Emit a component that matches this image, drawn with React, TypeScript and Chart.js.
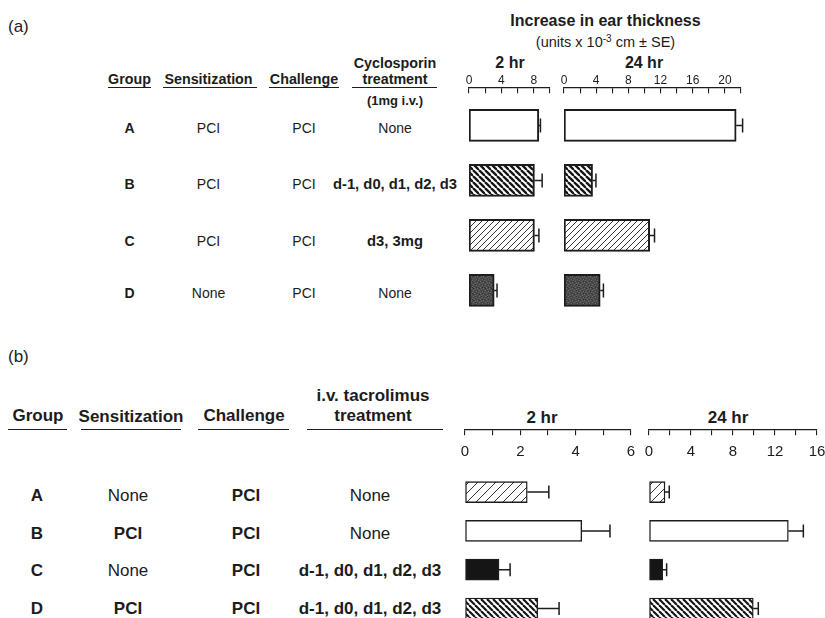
import React, { useEffect, useRef } from 'react';
import { Chart, registerables } from 'chart.js';

Chart.register(...registerables);

// ---------------- DATA ----------------
const groups = ['A', 'B', 'C', 'D'];

// Panel (a): cyclosporin
const aSensitization = ['PCI', 'PCI', 'PCI', 'None'];
const aChallenge = ['PCI', 'PCI', 'PCI', 'PCI'];
const aTreatment = ['None', 'd-1, d0, d1, d2, d3', 'd3, 3mg', 'None'];
const a2hValues = [8.62, 8.08, 8.08, 3.11];
const a2hErrors = [0.2, 0.95, 0.55, 0.35];
const a24hValues = [21.4, 3.55, 10.65, 4.5];
const a24hErrors = [0.8, 0.42, 0.6, 0.4];
const a2hTicks = [0, 2, 4, 6, 8, 10];
const a2hTickLabels = [0, 4, 8];
const a24hTicks = [0, 2, 4, 6, 8, 10, 12, 14, 16, 18, 20, 22];
const a24hTickLabels = [0, 4, 8, 12, 16, 20];

// Panel (b): tacrolimus
const bSensitization = ['None', 'PCI', 'None', 'PCI'];
const bChallenge = ['PCI', 'PCI', 'PCI', 'PCI'];
const bTreatment = ['None', 'None', 'd-1, d0, d1, d2, d3', 'd-1, d0, d1, d2, d3'];
const b2hValues = [2.25, 4.22, 1.23, 2.63];
const b2hErrors = [0.78, 1.02, 0.4, 0.77];
const b24hValues = [1.52, 13.27, 1.3, 9.93];
const b24hErrors = [0.41, 1.43, 0.38, 0.48];
const b2hTicks = [0, 1, 2, 3, 4, 5, 6];
const b2hTickLabels = [0, 2, 4, 6];
const b24hTicks = [0, 2, 4, 6, 8, 10, 12, 14, 16];
const b24hTickLabels = [0, 4, 8, 12, 16];

// ---------------- STYLE ----------------
const FONT = '"Liberation Sans", Arial, Helvetica, sans-serif';
const INK = '#1c1c1c';
const aFills = ['white', 'hatchBackDense', 'hatchFwdLight', 'stipple'];
const bFills = ['hatchFwdSparse', 'white', 'black', 'hatchBackDense'];

function hatch(d: number, lw: number, dir: 'back' | 'fwd', color = '#151515') {
  const c = document.createElement('canvas');
  c.width = d; c.height = d;
  const g = c.getContext('2d')!;
  g.fillStyle = '#ffffff'; g.fillRect(0, 0, d, d);
  g.strokeStyle = color; g.lineWidth = lw;
  for (const k of [-1, 0, 1]) {
    g.beginPath();
    if (dir === 'back') { g.moveTo(k * d, 0); g.lineTo(k * d + d, d); }
    else { g.moveTo(k * d, d); g.lineTo(k * d + d, 0); }
    g.stroke();
  }
  return g.createPattern(c, 'repeat')!;
}

function stipple() {
  const c = document.createElement('canvas');
  c.width = 6; c.height = 6;
  const g = c.getContext('2d')!;
  g.fillStyle = '#4c4c4c'; g.fillRect(0, 0, 6, 6);
  g.fillStyle = '#6a6a6a';
  [[0, 0], [3, 1], [1, 3], [4, 4], [2, 5], [5, 2]].forEach(([x, y]) => g.fillRect(x, y, 1, 1));
  g.fillStyle = '#333333';
  [[2, 0], [5, 3], [0, 4], [3, 3], [4, 1]].forEach(([x, y]) => g.fillRect(x, y, 1, 1));
  return g.createPattern(c, 'repeat')!;
}

function fillFor(key: string, isA: boolean) {
  switch (key) {
    case 'white': return '#ffffff';
    case 'black': return '#151515';
    case 'hatchBackDense': return isA ? hatch(6, 2.3, 'back') : hatch(6, 2.1, 'back');
    case 'hatchFwdLight': return hatch(6, 1, 'fwd', '#333');
    case 'hatchFwdSparse': return hatch(9, 1, 'fwd', '#333');
    case 'stipple': return stipple();
    default: return '#ffffff';
  }
}

const errorBarPlugin = {
  id: 'errorBars',
  afterDatasetsDraw(chart: any, _args: any, opts: any) {
    const { errors, values, cap, width } = opts;
    if (!errors) return;
    const meta = chart.getDatasetMeta(0);
    const xs = chart.scales.x;
    const ctx = chart.ctx;
    ctx.save();
    ctx.strokeStyle = INK;
    ctx.lineWidth = width;
    meta.data.forEach((bar: any, i: number) => {
      const end = xs.getPixelForValue(values[i] + errors[i]);
      const y = bar.y;
      ctx.beginPath();
      ctx.moveTo(bar.x, y);
      ctx.lineTo(end, y);
      ctx.moveTo(end, y - cap / 2);
      ctx.lineTo(end, y + cap / 2);
      ctx.stroke();
    });
    ctx.restore();
  },
};

type Spec = {
  panel: 'a' | 'b';
  values: number[];
  errors: number[];
  fills: string[];
  ticks: number[];
  tickLabels: number[];
  yMin: number;
  yMax: number;
};

function buildConfig(s: Spec): any {
  const data = s.values.map((v, i) => ({ x: v, y: i }));
  const min = s.ticks[0];
  const max = s.ticks[s.ticks.length - 1];
  const step = s.ticks[1] - s.ticks[0];
  const isA = s.panel === 'a';
  const labelCb = (v: any) => (s.tickLabels.includes(Number(v)) ? String(v) : '');
  const scales: any = {
    y: { type: 'linear', min: s.yMin, max: s.yMax, reverse: true, display: false, offset: false },
  };
  if (isA) {
    scales.x = {
      type: 'linear', position: 'top', min, max,
      ticks: {
        stepSize: step, autoSkip: false, maxRotation: 0, padding: 0, color: INK,
        font: { family: FONT, size: 12, lineHeight: 1.25 }, callback: labelCb,
      },
      grid: { display: false, drawTicks: false },
      border: { display: false },
    };
    scales.xt = {
      type: 'linear', axis: 'x', position: { y: s.yMin }, min, max,
      ticks: { stepSize: step, display: false, autoSkip: false },
      grid: { display: true, drawOnChartArea: false, drawTicks: true, tickLength: 5, color: INK, lineWidth: 1.1 },
      border: { display: true, color: INK, width: 1.2 },
    };
  } else {
    scales.x = {
      type: 'linear', axis: 'x', position: { y: s.yMin }, min, max,
      ticks: {
        stepSize: step, autoSkip: false, maxRotation: 0, padding: 8, color: INK,
        font: { family: FONT, size: 15, lineHeight: 1.2 }, callback: labelCb,
      },
      grid: { display: true, drawOnChartArea: false, drawTicks: true, tickLength: 5, color: INK, lineWidth: 1.1 },
      border: { display: true, color: INK, width: 1.2 },
    };
  }
  return {
    type: 'bar',
    data: {
      labels: groups,
      datasets: [{
        data,
        xAxisID: 'x',
        yAxisID: 'y',
        backgroundColor: s.fills.map((f) => fillFor(f, isA)),
        borderColor: INK,
        borderWidth: isA ? 2 : 1.4,
        borderSkipped: false,
        barThickness: isA ? 32 : 21,
      }],
    },
    options: {
      indexAxis: 'y',
      responsive: false,
      maintainAspectRatio: false,
      animation: false,
      layout: { padding: { left: 20, right: 20, top: 5, bottom: 0 } },
      scales,
      plugins: {
        legend: { display: false },
        tooltip: { enabled: false },
        title: { display: false },
        errorBars: { errors: s.errors, values: s.values, cap: isA ? 14 : 13, width: 1.5 },
      },
    },
    plugins: [errorBarPlugin],
  };
}

function BarChart({ spec, left, top, width, height }: { spec: Spec; left: number; top: number; width: number; height: number }) {
  const ref = useRef<HTMLCanvasElement>(null);
  useEffect(() => {
    const chart = new Chart(ref.current!, buildConfig(spec));
    return () => chart.destroy();
  }, []);
  return (
    <canvas
      ref={ref}
      width={width}
      height={height}
      style={{ position: 'absolute', left, top, width, height }}
    />
  );
}

function T({ x, y, s, b, left, children }: { x: number; y: number; s: number; b?: boolean; left?: boolean; children: any }) {
  return (
    <div
      style={{
        position: 'absolute', left: x, top: y,
        transform: left ? 'translate(0,-50%)' : 'translate(-50%,-50%)',
        fontSize: s, fontWeight: b ? 700 : 400, lineHeight: 1, whiteSpace: 'nowrap',
        fontFamily: FONT, color: INK,
      }}
    >
      {children}
    </div>
  );
}

function U({ x1, x2, y }: { x1: number; x2: number; y: number }) {
  return <div style={{ position: 'absolute', left: x1, top: y, width: x2 - x1, height: 1.3, background: INK }} />;
}

const aRowY = [128, 184, 241, 293];
const bRowY = [495, 533, 570, 608];

export default function App() {
  return (
    <div style={{ position: 'absolute', left: 0, top: 0, width: 825, height: 618, overflow: 'hidden', background: '#fff' }}>
      {/* Panel (a) */}
      <T x={8} y={26} s={17} left>(a)</T>
      <T x={605.5} y={21} s={16} b>Increase in ear thickness</T>
      <T x={605.5} y={42} s={14.5}>
        (units x 10<span style={{ fontSize: 10, position: 'relative', top: -5 }}>-3</span> cm ± SE)
      </T>
      <T x={510} y={63} s={16} b>2 hr</T>
      <T x={644} y={63} s={16} b>24 hr</T>

      <T x={129.5} y={79} s={14.3} b>Group</T>
      <T x={208.5} y={79} s={14.3} b>Sensitization</T>
      <T x={304} y={79} s={14.3} b>Challenge</T>
      <T x={395} y={63} s={14.3} b>Cyclosporin</T>
      <T x={395} y={79} s={14.3} b>treatment</T>
      <T x={395} y={100} s={13} b>(1mg i.v.)</T>
      <U x1={108} x2={151} y={87} />
      <U x1={163} x2={257} y={87} />
      <U x1={269} x2={339} y={87} />
      <U x1={352} x2={437} y={87} />

      {groups.map((g, i) => (
        <React.Fragment key={'a' + g}>
          <T x={129.5} y={aRowY[i]} s={14} b>{g}</T>
          <T x={208.5} y={aRowY[i]} s={14}>{aSensitization[i]}</T>
          <T x={304} y={aRowY[i]} s={14}>{aChallenge[i]}</T>
          <T x={395} y={aRowY[i]} s={aTreatment[i] === 'None' ? 14 : 14.8} b={aTreatment[i] !== 'None'}>{aTreatment[i]}</T>
        </React.Fragment>
      ))}

      <BarChart
        spec={{ panel: 'a', values: a2hValues, errors: a2hErrors, fills: aFills, ticks: a2hTicks, tickLabels: a2hTickLabels, yMin: -0.68, yMax: 3.61 }}
        left={449} top={68} width={121} height={256}
      />
      <BarChart
        spec={{ panel: 'a', values: a24hValues, errors: a24hErrors, fills: aFills, ticks: a24hTicks, tickLabels: a24hTickLabels, yMin: -0.68, yMax: 3.61 }}
        left={544} top={68} width={217} height={256}
      />

      {/* Panel (b) */}
      <T x={8} y={356} s={17} left>(b)</T>
      <T x={373} y={395} s={17} b>i.v. tacrolimus</T>
      <T x={373} y={415} s={17} b>treatment</T>
      <T x={38} y={415} s={17} b>Group</T>
      <T x={131} y={416} s={17} b>Sensitization</T>
      <T x={244} y={415} s={17} b>Challenge</T>
      <T x={542} y={417} s={17} b>2 hr</T>
      <T x={728} y={417} s={17} b>24 hr</T>
      <U x1={8} x2={67} y={429} />
      <U x1={81} x2={181} y={429} />
      <U x1={198} x2={289} y={429} />
      <U x1={307} x2={443} y={429} />

      {groups.map((g, i) => (
        <React.Fragment key={'b' + g}>
          <T x={37} y={bRowY[i]} s={17} b>{g}</T>
          <T x={128} y={bRowY[i]} s={17} b={bSensitization[i] !== 'None'}>{bSensitization[i]}</T>
          <T x={246} y={bRowY[i]} s={17} b>{bChallenge[i]}</T>
          <T x={370} y={bRowY[i]} s={17} b={bTreatment[i] !== 'None'}>{bTreatment[i]}</T>
        </React.Fragment>
      ))}

      <BarChart
        spec={{ panel: 'b', values: b2hValues, errors: b2hErrors, fills: bFills, ticks: b2hTicks, tickLabels: b2hTickLabels, yMin: -1.6, yMax: 3.4 }}
        left={445} top={425} width={206} height={199}
      />
      <BarChart
        spec={{ panel: 'b', values: b24hValues, errors: b24hErrors, fills: bFills, ticks: b24hTicks, tickLabels: b24hTickLabels, yMin: -1.6, yMax: 3.4 }}
        left={629} top={425} width={208} height={199}
      />
    </div>
  );
}
